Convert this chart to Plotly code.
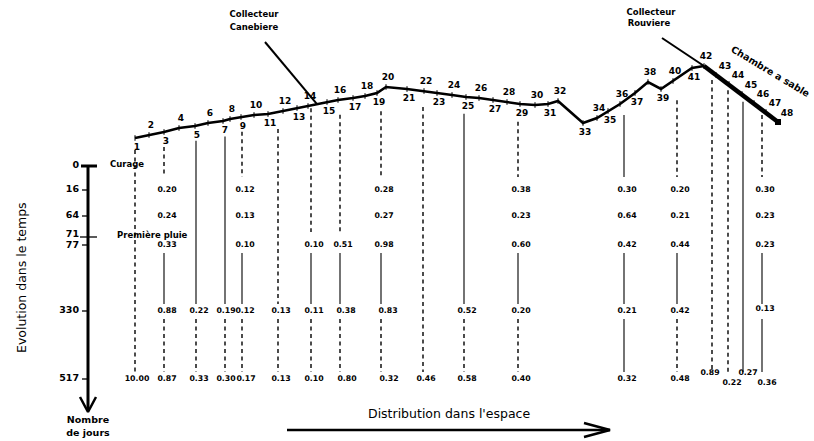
import numpy as np
import plotly.graph_objects as go

# ---------------- data ----------------
stations = list(range(1, 49))
# schematic abscissa of each station along the network (drawing units)
station_dist = [135, 149, 164, 179, 195, 208, 223, 230, 241, 254, 268, 283, 297, 308, 327, 338,
                353, 365, 377, 386, 407, 424, 437, 452, 466, 479, 493, 507, 520, 535, 548, 558,
                583, 597, 608, 620, 635, 648, 661, 673, 692, 704, 716, 729, 742, 754, 766, 778]
# schematic profile level of each station (drawing units, downward)
station_level = [138, 135, 132, 128, 126, 123, 121, 119, 117, 115, 114, 111, 108, 106, 102, 100,
                 98, 96, 93, 87, 89, 91, 93, 95, 97, 98, 100, 102, 104, 105, 104, 101,
                 123, 118, 111, 104, 93, 82, 89, 81, 68, 66, 75, 84, 94, 103, 112, 122]

days = [0, 16, 64, 71, 77, 330, 517]
day_labels = ["0", "16", "64", "71", "77", "330", "517"]
sample_days = [16, 64, 77, 330, 517]
event_days = [0, 71]
event_names = ["Curage", "Première pluie"]

col_station = [1, 3, 5, 7, 9, 11, 14, 15, 19, 22, 25, 29, 35, 39, 42, 44, 45, 47]
col_dist = [135, 164, 196, 225, 242, 278, 311, 340, 381, 423, 464, 518, 624, 677, 712, 728, 743, 762]
N = None
col_values = [
    [N, N, N, N, 10.00],
    [0.20, 0.24, 0.33, 0.88, 0.87],
    [N, N, N, 0.22, 0.33],
    [N, N, N, 0.19, 0.30],
    [0.12, 0.13, 0.10, 0.12, 0.17],
    [N, N, N, 0.13, 0.13],
    [N, N, 0.10, 0.11, 0.10],
    [N, N, 0.51, 0.38, 0.80],
    [0.28, 0.27, 0.98, 0.83, 0.32],
    [N, N, N, N, 0.46],
    [N, N, N, 0.52, 0.58],
    [0.38, 0.23, 0.60, 0.20, 0.40],
    [0.30, 0.64, 0.42, 0.21, 0.32],
    [0.20, 0.21, 0.44, 0.42, 0.48],
    [N, N, N, N, 0.89],
    [N, N, N, N, 0.22],
    [N, N, N, N, 0.27],
    [0.30, 0.23, 0.23, 0.13, 0.36],
]
# link style between successive points of a column: S solid, D dashed, - none
col_links = ["D", "D--SD", "SD", "SD", "D--SD", "DD", "DSD", "DSD", "D--SD", "D", "SD",
             "D--SD", "S--SS", "D--SD", "D", "D", "S", "D--SS"]

# ---------------- layout constants ----------------
ROW_Y = {0: 166, 16: 190, 64: 216, 71: 237, 77: 245, 330: 311, 517: 379}
COL_TOP_GAP = [12, 15, 15, 16, 15, 17, 3, 15, 21, 16, 17, 18, 14, 22, 8, 7, 7, 6]
VALUE_NUDGE = {(0, 517): (-1, 0), (14, 517): (-5, -6), (15, 517): (1, 4),
               (16, 517): (2, -6), (17, 517): (2, 4), (17, 330): (0, -2),
               (7, 330): (3, 0), (7, 517): (4, 0), (8, 330): (4, 0), (8, 517): (5, 0),
               (3, 517): (-2, 0), (4, 517): (1, 0), (3, 330): (-2, 0)}
AXIS_X = 88
BLACK = "#000"
FONT = "DejaVu Sans"

fig = go.Figure()

def line(xs, ys, width, dash="solid"):
    fig.add_trace(go.Scatter(x=xs, y=ys, mode="lines", hoverinfo="skip",
                             line=dict(color=BLACK, width=width, dash=dash)))

def text(xs, ys, labels, size, pos="middle center", bold=True):
    fig.add_trace(go.Scatter(x=xs, y=ys, mode="text", text=labels, textposition=pos,
                             hoverinfo="skip",
                             textfont=dict(family=FONT, size=size, color=BLACK,
                                           weight="bold" if bold else "normal")))

# --- profile of the network ---
i42 = stations.index(42)
line(station_dist[:i42 + 1], station_level[:i42 + 1], 2.6)
line(station_dist[i42:], station_level[i42:], 4.5)
fig.add_trace(go.Scatter(x=station_dist[:-1], y=station_level[:-1], mode="markers", hoverinfo="skip",
                         marker=dict(symbol="line-ns", size=4, line=dict(color=BLACK, width=1))))
fig.add_trace(go.Scatter(x=[station_dist[-1]], y=[station_level[-1]], mode="markers", hoverinfo="skip",
                         marker=dict(symbol="square", size=6, color=BLACK)))

# station labels (odd below, even above, right of the descending branch)
lx, ly = [], []
for s, x, y in zip(stations, station_dist, station_level):
    if s >= 43:
        lx.append(x + 9); ly.append(y - 8)
    elif s % 2:
        lx.append(x + 2); ly.append(y + 10)
    else:
        lx.append(x + 2); ly.append(y - 9)
text(lx, ly, [str(s) for s in stations], 9)

# collectors
j_can = 317
line([265, j_can], [42, float(np.interp(j_can, station_dist, station_level))], 2)
text([254, 254], [15, 28], ["Collecteur", "Canebiere"], 8.5)
line([662, station_dist[i42]], [38, station_level[i42]], 2)
text([651, 649], [13, 24], ["Collecteur", "Rouviere"], 8.5)
fig.add_annotation(x=771, y=71, xref="x", yref="y", text="Chambre a sable", showarrow=False,
                   textangle=31, font=dict(family=FONT, size=9.5, color=BLACK, weight="bold"))

# --- sampling columns ---
seg = {"S": ([], []), "D": ([], [])}
vx, vy, vt = [], [], []
for k, x in enumerate(col_dist):
    y0 = float(np.interp(x, station_dist, station_level)) + COL_TOP_GAP[k]
    pts = [("top", y0)] + [(d, ROW_Y[d]) for d, v in zip(sample_days, col_values[k]) if v is not None]
    for (a, ya), (b, yb), st in zip(pts[:-1], pts[1:], col_links[k]):
        if st == "-":
            continue
        start = ya if a == "top" else ya + 8
        end = yb - (13 if b < 100 else 7)
        seg[st][0].extend([x, x, None])
        seg[st][1].extend([start, end, None])
    for d, v in zip(sample_days, col_values[k]):
        if v is None:
            continue
        dx, dy = VALUE_NUDGE.get((k, d), (0, 0))
        vx.append(x + 3 + dx); vy.append(ROW_Y[d] + dy); vt.append(f"{v:.2f}")
line(seg["S"][0], seg["S"][1], 1.1)
line(seg["D"][0], seg["D"][1], 1.4, dash="4px,3.5px")
text(vx, vy, vt, 7.8)

# --- time axis ---
line([AXIS_X, AXIS_X], [ROW_Y[0], 411], 3)
line([AXIS_X - 8, AXIS_X, AXIS_X + 8], [397, 412, 397], 2.5)
line([AXIS_X - 7, AXIS_X + 9], [ROW_Y[0], ROW_Y[0]], 3)
line([AXIS_X - 8, AXIS_X + 9], [ROW_Y[71], ROW_Y[71]], 1.3)
tx, ty = [], []
for d in sample_days:
    tx += [AXIS_X - 6, AXIS_X, None]; ty += [ROW_Y[d], ROW_Y[d], None]
line(tx, ty, 1.3)
text([79] * len(days), [ROW_Y[d] + (-2 if d == 71 else 1 if d == 77 else 0) for d in days],
     day_labels, 9.5, pos="middle left")
text([110, 117], [ROW_Y[d] - 1 for d in event_days], event_names, 8.5, pos="middle right")
text([AXIS_X, AXIS_X], [421, 434], ["Nombre", "de jours"], 9.5)
fig.add_annotation(x=21, y=278, xref="x", yref="y", text="Evolution dans le temps", showarrow=False,
                   textangle=-90, font=dict(family=FONT, size=12.5, color=BLACK))

# --- space axis ---
line([287, 610], [430, 430], 2.5)
line([584, 610, 584], [423, 430, 437], 2.5)
fig.add_annotation(x=449, y=413, xref="x", yref="y", text="Distribution dans l'espace", showarrow=False,
                   font=dict(family=FONT, size=12.5, color=BLACK))

fig.update_layout(width=814, height=441, margin=dict(l=0, r=0, t=0, b=0),
                  paper_bgcolor="white", plot_bgcolor="white", showlegend=False,
                  xaxis=dict(range=[0, 814], visible=False, fixedrange=True),
                  yaxis=dict(range=[441, 0], visible=False, fixedrange=True))
fig.write_html("out.html", config={"displayModeBar": False},
               post_script="document.body.style.margin='0';document.body.style.overflow='hidden';")
